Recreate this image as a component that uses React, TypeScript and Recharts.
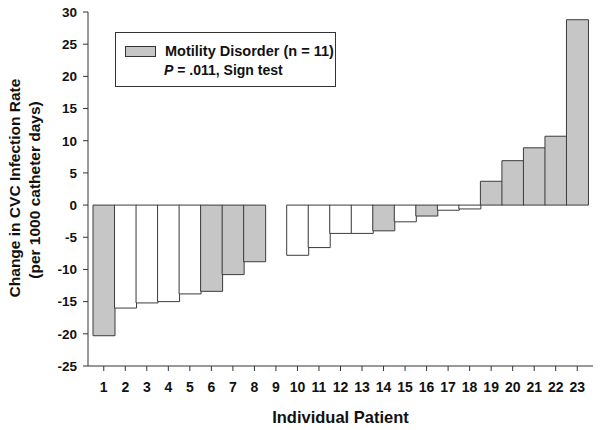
import React from "react";
import { BarChart, Bar, XAxis, YAxis, Cell } from "recharts";

const patients = ["1","2","3","4","5","6","7","8","9","10","11","12","13","14","15","16","17","18","19","20","21","22","23"];
const changeValues = [-20.3, -16.0, -15.2, -15.0, -13.8, -13.4, -10.8, -8.8, 0, -7.8, -6.6, -4.4, -4.4, -4.0, -2.6, -1.7, -0.8, -0.6, 3.7, 6.9, 8.9, 10.7, 28.8];
const motility = [true, false, false, false, false, true, true, true, false, false, false, false, false, true, false, true, false, false, true, true, true, true, true];
const yTicks = [-25, -20, -15, -10, -5, 0, 5, 10, 15, 20, 25, 30];

const data = patients.map((p, i) => ({ patient: p, change: changeValues[i], motility: motility[i] }));

const FONT = '"Liberation Sans", Arial, sans-serif';
const GRAY = "#c6c6c6";
const EDGE = "#3c3c3c";

const YLabel = (props: any) => {
  const vb = props.viewBox || {};
  const cy = vb.y + vb.height / 2 - 1;
  return (
    <g>
      <text x={14.5} y={cy} transform={`rotate(-90, 14.5, ${cy})`} textAnchor="middle" dominantBaseline="central"
        style={{ fontFamily: FONT, fontWeight: 700, fontSize: 15.5, fill: "#111" }}>
        Change in CVC Infection Rate
      </text>
      <text x={34} y={cy + 2} transform={`rotate(-90, 34, ${cy + 2})`} textAnchor="middle" dominantBaseline="central"
        style={{ fontFamily: FONT, fontWeight: 700, fontSize: 15.5, fill: "#111" }}>
        (per 1000 catheter days)
      </text>
    </g>
  );
};

const LegendBox = () => (
  <div style={{ position: "absolute", left: 115, top: 32, width: 221, height: 55, boxSizing: "border-box", border: "1px solid #333", background: "#fff", fontFamily: FONT, fontWeight: 700, fontSize: 14.5, color: "#111" }}>
    <div style={{ position: "absolute", left: 9, top: 13, width: 31, height: 11, background: GRAY, border: "1px solid #333", boxSizing: "border-box" }} />
    <div style={{ position: "absolute", left: 49, top: 9, whiteSpace: "nowrap", lineHeight: "18px" }}>Motility Disorder (n = 11)</div>
    <div style={{ position: "absolute", left: 48, top: 28, whiteSpace: "nowrap", lineHeight: "18px", fontSize: 14 }}>
      <span style={{ fontStyle: "italic" }}>P</span> = .011, Sign test
    </div>
  </div>
);

export default function App() {
  return (
    <div style={{ position: "absolute", left: 0, top: 0, width: 602, height: 430, background: "#fff" }}>
      <BarChart width={602} height={430} data={data} margin={{ top: 12, right: 9, bottom: 0, left: 0 }} barCategoryGap={0} barGap={0}>
        <XAxis dataKey="patient" height={64} axisLine={{ stroke: "#333" }} tickLine={{ stroke: "#333" }} tickSize={5} tickMargin={11}
          padding={{ left: 5, right: 5 }} interval={0}
          tick={{ fontFamily: FONT, fontWeight: 700, fontSize: 14, fill: "#111" }}
          label={{ value: "Individual Patient", position: "insideBottom", offset: 7, style: { fontFamily: FONT, fontWeight: 700, fontSize: 16.5, fill: "#111" } }} />
        <YAxis width={88} domain={[-25, 30]} ticks={yTicks} interval={0} allowDataOverflow axisLine={{ stroke: "#333" }}
          tickLine={{ stroke: "#333" }} tickSize={5} tickMargin={6}
          tick={{ fontFamily: FONT, fontWeight: 700, fontSize: 13.5, fill: "#111" }}
          label={<YLabel />} />
        <YAxis yAxisId="r" orientation="right" width={0} domain={[-25, 30]} tick={false} tickLine={false} axisLine={{ stroke: "#333" }} />
        <Bar dataKey="change" stroke={EDGE} strokeWidth={1} isAnimationActive={false}>
          {data.map((d, i) => (
            <Cell key={i} fill={d.motility ? GRAY : "#ffffff"} />
          ))}
        </Bar>
      </BarChart>
      <LegendBox />
    </div>
  );
}
